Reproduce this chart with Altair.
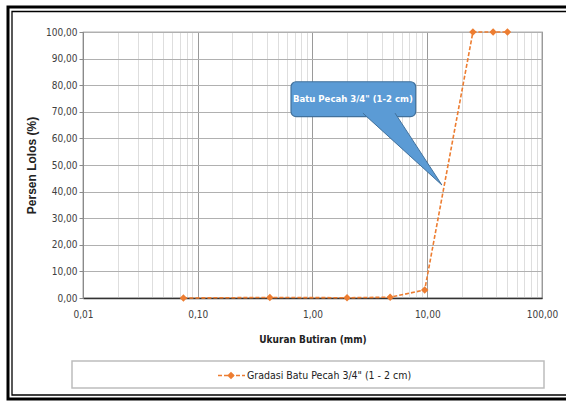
import altair as alt
import pandas as pd

# ---- data ----
sizes_mm = [0.075, 0.425, 2.0, 4.75, 9.5, 25.0, 37.5, 50.0]
passing_pct = [0.0, 0.2, 0.1, 0.3, 3.0, 100.0, 100.0, 100.0]

x_grid = [round(d * k, 6) for d in [0.01, 0.1, 1, 10] for k in range(1, 10)] + [100]
y_ticks = list(range(0, 101, 10))

series_name = 'Gradasi Batu Pecah 3/4" (1 - 2 cm)'
callout_text = 'Batu Pecah 3/4" (1-2 cm)'

# callout (in data units)
box_x = [0.65, 7.93]
box_y = [68.2, 81.3]
ptr_x = [2.75, 5.24, 13.4]
ptr_top = [69.5, 69.5, 42.5]
ptr_bot = [69.5, 58.5, 42.5]
label_xy = [2.25, 74.8]

ORANGE = "#ed7d31"
NARROW = "'Liberation Sans Narrow', 'Arial Narrow', 'DejaVu Sans Condensed', 'Roboto Condensed', Roboto, sans-serif"

df = pd.DataFrame({"size": sizes_mm, "pass": passing_pct})

xscale = alt.Scale(type="log", domain=[0.01, 100], nice=False)
yscale = alt.Scale(domain=[0, 100], nice=False)

major_test = "abs(log(datum.value)/LN10 - round(log(datum.value)/LN10)) < 0.001"

xaxis = alt.Axis(
    values=x_grid,
    labelExpr=f"({major_test}) ? replace(format(datum.value, '.2f'), '.', ',') : ''",
    gridColor={"condition": {"test": major_test, "value": "#9a9a9a"}, "value": "#dedede"},
    gridWidth=1,
    ticks=False,
    domainColor="#333333",
    domainWidth=1.6,
    labelFont=NARROW,
    labelFontSize=10,
    labelColor="#404040",
    labelPadding=11,
    labelFlush=False,
    labelOverlap=False,
    title="Ukuran Butiran (mm)",
    titleFont=NARROW,
    titleFontSize=10,
    titleFontWeight="bold",
    titleColor="#222222",
    titlePadding=15,
)

yaxis = alt.Axis(
    values=y_ticks,
    labelExpr="replace(format(datum.value, '.2f'), '.', ',')",
    gridColor="#b0b0b0",
    gridWidth=1,
    ticks=True,
    tickSize=4,
    tickColor="#8a8a8a",
    domainColor="#8a8a8a",
    labelFont=NARROW,
    labelFontSize=10,
    labelColor="#404040",
    labelPadding=2,
    labelOverlap=False,
    title="Persen Lolos (%)",
    titleFont="Liberation Sans",
    titleFontSize=12,
    titleFontWeight="bold",
    titleColor="#222222",
    titlePadding=7,
)

base = alt.Chart(df).encode(
    x=alt.X("size:Q", scale=xscale, axis=xaxis),
    y=alt.Y("pass:Q", scale=yscale, axis=yaxis),
)

line = base.mark_line(
    color=ORANGE, strokeDash=[4, 2], strokeWidth=1.6,
    point=alt.OverlayMarkDef(shape="diamond", size=55, filled=True, color=ORANGE),
)

box = alt.Chart(alt.Data(values=[{"x1": box_x[0], "x2": box_x[1], "y1": box_y[0], "y2": box_y[1]}])).mark_rect(
    fill="#5b9bd5", stroke="#41719c", strokeWidth=1.2, cornerRadius=5
).encode(
    x=alt.X("x1:Q", scale=xscale, axis=xaxis), x2="x2:Q",
    y=alt.Y("y1:Q", scale=yscale, axis=yaxis), y2="y2:Q",
)

pointer_df = pd.DataFrame({"px": ptr_x, "top": ptr_top, "bot": ptr_bot})
pointer = alt.Chart(pointer_df).mark_area(fill="#5b9bd5", opacity=1).encode(
    x=alt.X("px:Q", scale=xscale, axis=xaxis),
    y=alt.Y("top:Q", scale=yscale, axis=yaxis),
    y2="bot:Q",
)
pointer_edges = alt.Chart(pd.DataFrame({
    "px": [ptr_x[0], ptr_x[2], ptr_x[1], ptr_x[2]],
    "py": [ptr_top[0], ptr_top[2], ptr_top[1], ptr_top[2]],
    "seg": [0, 0, 1, 1],
})).mark_line(color="#41719c", strokeWidth=1).encode(
    x=alt.X("px:Q", scale=xscale, axis=xaxis),
    y=alt.Y("py:Q", scale=yscale, axis=yaxis),
    detail="seg:N",
)

callout_label = alt.Chart(alt.Data(values=[{"x": label_xy[0], "y": label_xy[1]}])).mark_text(
    text=callout_text, color="white", font=NARROW, fontSize=9.5, fontWeight="bold",
    align="center", baseline="middle",
).encode(
    x=alt.X("x:Q", scale=xscale, axis=xaxis),
    y=alt.Y("y:Q", scale=yscale, axis=yaxis),
)

one = alt.Data(values=[{"a": 1}])

# legend box (pixel positions relative to the plot area)
leg_box = alt.Chart(one).mark_rect(fill="white", stroke="#bdbdbd", strokeWidth=1.5).encode(
    x=alt.value(-11), x2=alt.value(461), y=alt.value(329), y2=alt.value(356)
)
leg_line = alt.Chart(one).mark_rule(color=ORANGE, strokeDash=[4, 2], strokeWidth=1.6).encode(
    x=alt.value(135), x2=alt.value(162), y=alt.value(343.5)
)
leg_pt = alt.Chart(one).mark_point(shape="diamond", size=55, filled=True, color=ORANGE, opacity=1).encode(
    x=alt.value(148), y=alt.value(343.5)
)
leg_text = alt.Chart(one).mark_text(
    text=series_name, font=NARROW, fontSize=10.5, color="#222222", align="left", baseline="middle"
).encode(x=alt.value(164), y=alt.value(343.5))

# outer double frame
frame_outer = alt.Chart(one).mark_rect(fill="transparent", stroke="black", strokeWidth=3).encode(
    x=alt.value(-75), x2=alt.value(500), y=alt.value(-25), y2=alt.value(367)
)
frame_inner = alt.Chart(one).mark_rect(fill="transparent", stroke="black", strokeWidth=1.3).encode(
    x=alt.value(-71), x2=alt.value(500), y=alt.value(-20.5), y2=alt.value(363)
)

chart = alt.layer(
    line, box, pointer, pointer_edges, callout_label,
    leg_box, leg_line, leg_pt, leg_text, frame_outer, frame_inner,
).properties(
    width=459, height=266,
    autosize=alt.AutoSizeParams(type="none"),
    padding={"left": 83, "top": 32, "right": 24, "bottom": 103},
    background="white",
).configure_view(stroke="#666666", strokeWidth=1.2)

chart.save("out.html", embed_options={"renderer": "svg", "actions": False})
